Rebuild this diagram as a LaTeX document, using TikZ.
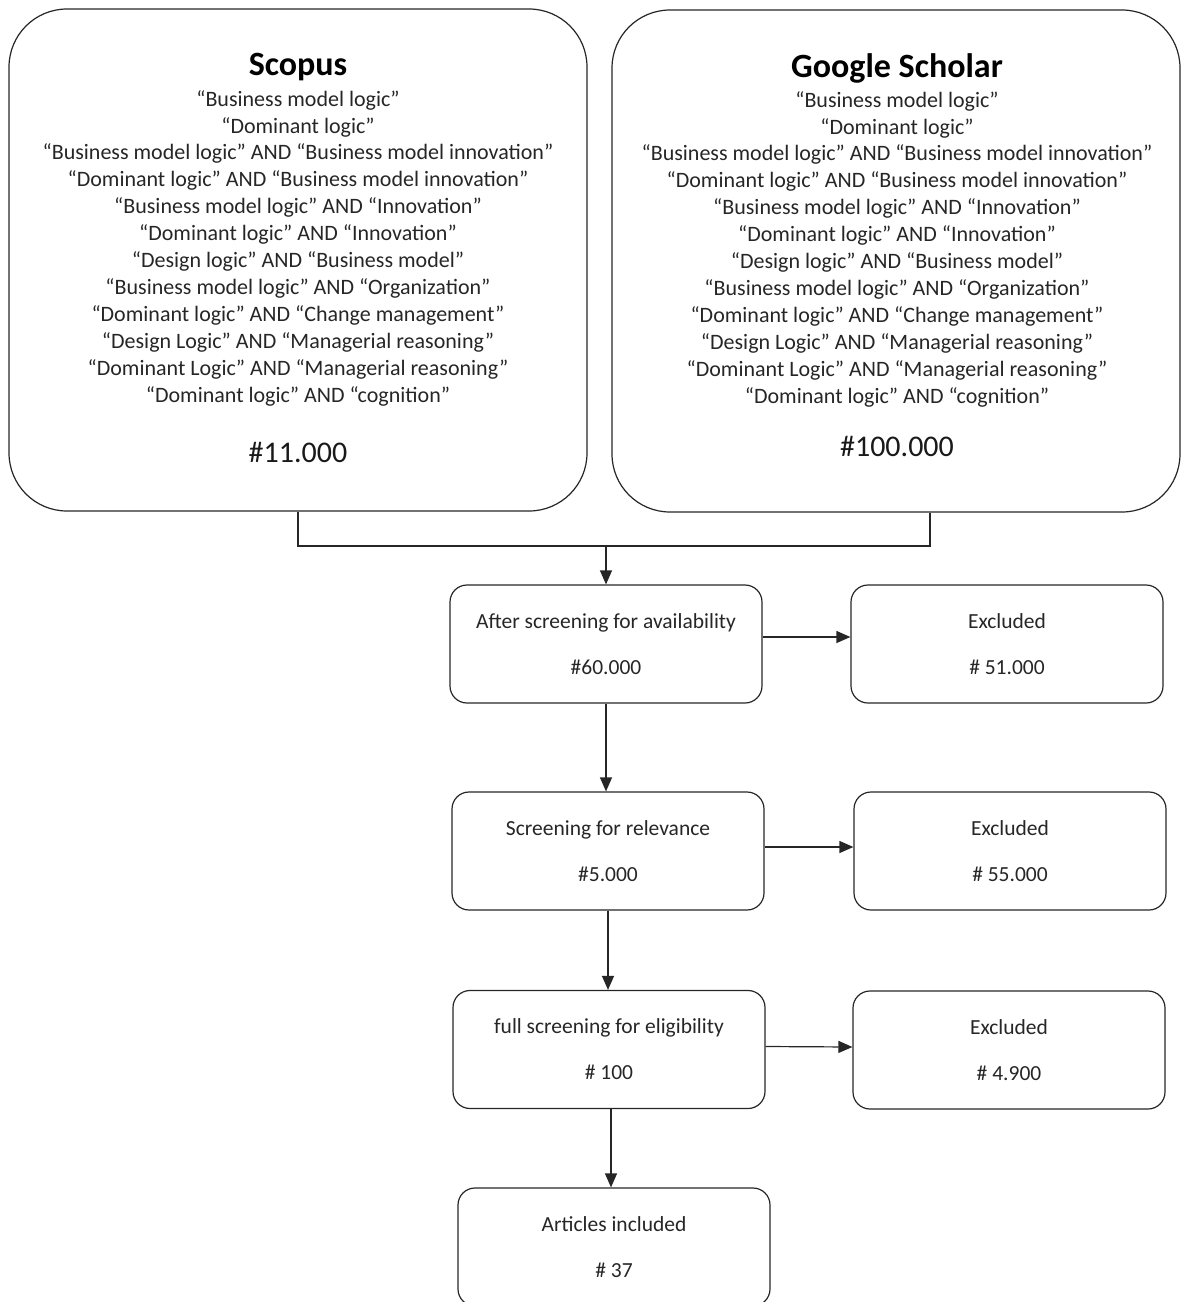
\documentclass[tikz,border=0pt]{standalone}
\usepackage{fontspec}
\setmainfont{Carlito}
\usetikzlibrary{arrows.meta}
\begin{document}
\begin{tikzpicture}[x=1pt,y=-1pt,
  bigbox/.style={draw=black!85, line width=1.2pt, rounded corners=58pt, inner sep=0pt},
  smallbox/.style={draw=black!85, line width=1.2pt, rounded corners=17pt, inner sep=0pt,
    minimum width=312pt, minimum height=118pt, align=center, text=black!85,
    font=\fontsize{21.5}{46}\selectfont},
  titletext/.style={font=\fontsize{34}{38}\selectfont\bfseries, text=black},
  querytext/.style={font=\fontsize{22}{26.9}\selectfont, align=center, text=black!85},
  counttext/.style={font=\fontsize{30}{34}\selectfont, text=black!90},
  conn/.style={draw=black!85, line width=1.2pt},
  arr/.style={conn, -{Triangle[length=14pt,width=12pt]}}
]
\useasboundingbox (0,0) rectangle (1182,1302);
\clip (0,0) rectangle (1182,1302);

% big source boxes
\node[bigbox, minimum width=578pt, minimum height=502pt] (scopus) at (298,260) {};
\node[bigbox, minimum width=568pt, minimum height=502pt] (google) at (896,261) {};

\node[titletext] (scopusT) at (298,67) {Scopus};
\node[querytext] (scopusQ) at (298,248) {“Business model logic”\\
“Dominant logic”\\
“Business model logic” AND “Business model innovation”\\
“Dominant logic” AND “Business model innovation”\\
“Business model logic” AND “Innovation”\\
“Dominant logic” AND “Innovation”\\
“Design logic” AND “Business model”\\
“Business model logic” AND “Organization”\\
“Dominant logic” AND “Change management”\\
“Design Logic” AND “Managerial reasoning”\\
“Dominant Logic” AND “Managerial reasoning”\\
“Dominant logic” AND “cognition”};
\node[counttext] (scopusN) at (298,452) {\#11.000};

\node[titletext] (googleT) at (897,68) {Google Scholar};
\node[querytext] (googleQ) at (897,249) {“Business model logic”\\
“Dominant logic”\\
“Business model logic” AND “Business model innovation”\\
“Dominant logic” AND “Business model innovation”\\
“Business model logic” AND “Innovation”\\
“Dominant logic” AND “Innovation”\\
“Design logic” AND “Business model”\\
“Business model logic” AND “Organization”\\
“Dominant logic” AND “Change management”\\
“Design Logic” AND “Managerial reasoning”\\
“Dominant Logic” AND “Managerial reasoning”\\
“Dominant logic” AND “cognition”};
\node[counttext] (googleN) at (897,446) {\#100.000};

% flow boxes
\node[smallbox] (b1) at (606,644) {After screening for availability\\\#60.000};
\node[smallbox] (e1) at (1007,644) {Excluded\\\# 51.000};
\node[smallbox] (b2) at (608,851) {Screening for relevance\\\#5.000};
\node[smallbox] (e2) at (1010,851) {Excluded\\\# 55.000};
\node[smallbox] (b3) at (609,1049.5) {full screening for eligibility\\\# 100};
\node[smallbox] (e3) at (1009,1050) {Excluded\\\# 4.900};
\node[smallbox] (b4) at (614,1247) {Articles included\\\# 37};

% connectors
\coordinate (join) at (606,546);
\coordinate (gfoot) at ([xshift=34pt]google.south);
\draw[conn] (scopus.south) |- (join);
\draw[conn] (gfoot) |- (join);
\draw[arr] (join) -- (b1.north);

\draw[arr] ([yshift=7pt]b1.east) -- ([yshift=7pt]e1.west);
\draw[arr] ([yshift=4pt]b2.east) -- ([yshift=4pt]e2.west);
\draw[arr] ([yshift=3pt]b3.east) -- ([yshift=3pt]e3.west);

\draw[arr] (b1.south) -- (b1.south |- b2.north);
\draw[arr] (b2.south) -- (b2.south |- b3.north);
\draw[arr] ([xshift=2pt]b3.south) -- ([xshift=2pt]b3.south |- b4.north);
\end{tikzpicture}
\end{document}
